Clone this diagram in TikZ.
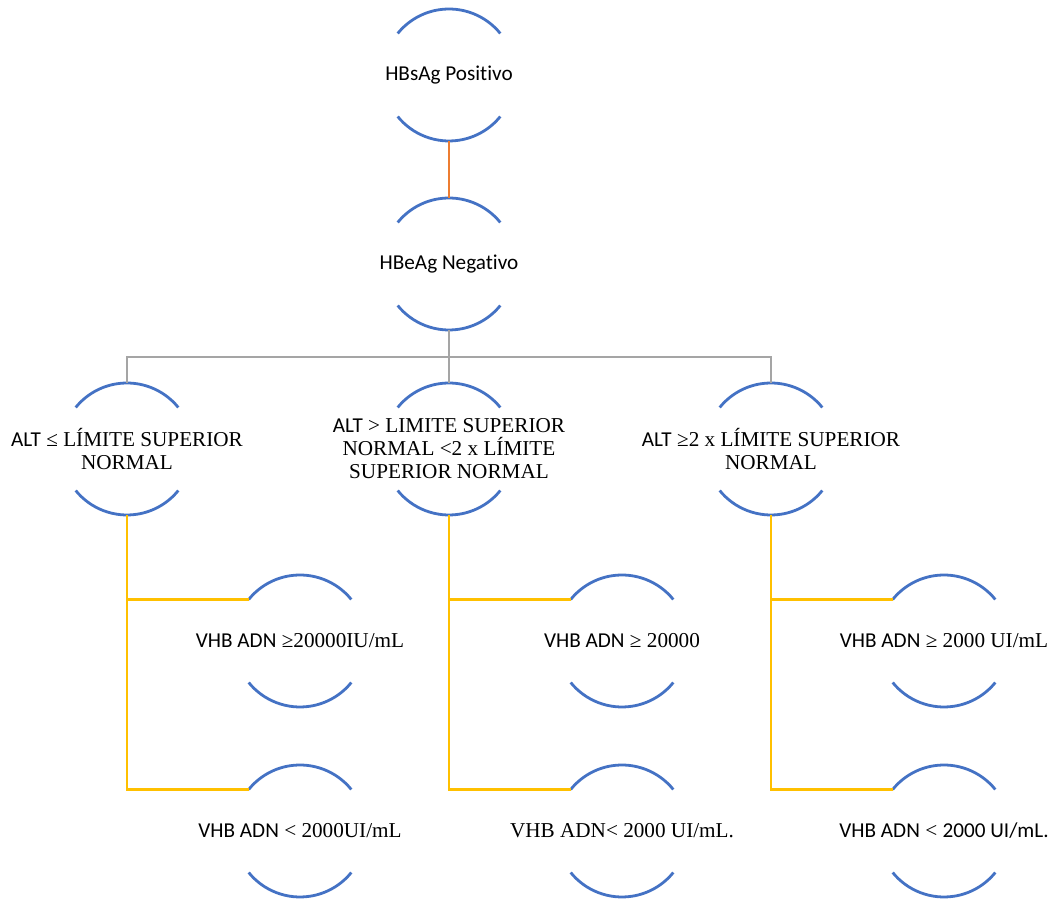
\documentclass[tikz,border=0pt]{standalone}
\usepackage{fontspec}
\setmainfont{Liberation Serif}
\newfontfamily\cb[Ligatures=NoCommon]{Carlito}
\definecolor{arcblue}{HTML}{4472C4}
\definecolor{conorange}{HTML}{ED7D31}
\definecolor{congray}{HTML}{A5A5A5}
\definecolor{conyellow}{HTML}{FFC000}
\begin{document}
\begin{tikzpicture}[x=1pt,y=1pt,
  ring/.style={circle,minimum size=132pt,inner sep=0pt,outer sep=0pt},
  txt/.style={align=center,inner sep=0pt,font=\fontsize{21.2pt}{23pt}\selectfont},
  arcline/.style={draw=arcblue,line width=2.8pt},
  orangecon/.style={draw=conorange,line width=2.8pt},
  graycon/.style={draw=congray,line width=2.8pt},
  yellowcon/.style={draw=conyellow,line width=2.8pt}]
\useasboundingbox (0,0) rectangle (1050,899);
\newcommand{\ringarcs}[1]{%
  \draw[arcline] (#1.39) arc[start angle=39,end angle=141,radius=66pt];
  \draw[arcline] (#1.219) arc[start angle=219,end angle=321,radius=66pt];}
% nodes
\node[ring] (n1) at (449,824) {};
\node[txt] (n1t) at (n1) {\cb HBsAg Positivo};
\node[ring] (n2) at (449,635) {};
\node[txt] (n2t) at (n2) {\cb HBeAg Negativo};
\node[ring] (a) at (127,450) {};
\node[txt] (at) at (a) {{\cb ALT} ≤ LÍMITE SUPERIOR\\NORMAL};
\node[ring] (b) at (449,450) {};
\node[txt] (bt) at (b) {{\cb ALT} > LIMITE SUPERIOR\\NORMAL <2 x LÍMITE\\SUPERIOR NORMAL};
\node[ring] (c) at (771,450) {};
\node[txt] (ct) at (c) {{\cb ALT} ≥2 x LÍMITE SUPERIOR\\NORMAL};
\node[ring] (a1) at (300,258) {};
\node[txt] (a1t) at (a1) {{\cb VHB ADN} ≥20000IU/mL};
\node[ring] (a2) at (300,68) {};
\node[txt] (a2t) at (a2) {{\cb VHB ADN} < 2000UI/mL};
\node[ring] (b1) at (622,258) {};
\node[txt] (b1t) at (b1) {{\cb VHB ADN} ≥ 20000};
\node[ring] (b2) at (622,68) {};
\node[txt] (b2t) at (b2) {VHB ADN< 2000 UI/mL.};
\node[ring] (c1) at (944,258) {};
\node[txt] (c1t) at (c1) {{\cb VHB ADN} ≥ 2000 UI/mL};
\node[ring] (c2) at (944,68) {};
\node[txt] (c2t) at (c2) {{\cb VHB ADN} < {\cb 2000 UI/mL.}};
% arcs
\ringarcs{n1}\ringarcs{n2}
\ringarcs{a}\ringarcs{b}\ringarcs{c}
\ringarcs{a1}\ringarcs{a2}\ringarcs{b1}\ringarcs{b2}\ringarcs{c1}\ringarcs{c2}
% connectors
\draw[orangecon] (n1.south) -- (n2.north);
\coordinate (g) at (449,542);
\draw[graycon] (n2.south) -- (g);
\draw[graycon] (g) -| (a.north);
\draw[graycon] (g) -- (b.north);
\draw[graycon] (g) -| (c.north);
\draw[yellowcon] (a.south) |- (a1.141);
\draw[yellowcon] (a.south) |- (a2.141);
\draw[yellowcon] (b.south) |- (b1.141);
\draw[yellowcon] (b.south) |- (b2.141);
\draw[yellowcon] (c.south) |- (c1.141);
\draw[yellowcon] (c.south) |- (c2.141);
\end{tikzpicture}
\end{document}
